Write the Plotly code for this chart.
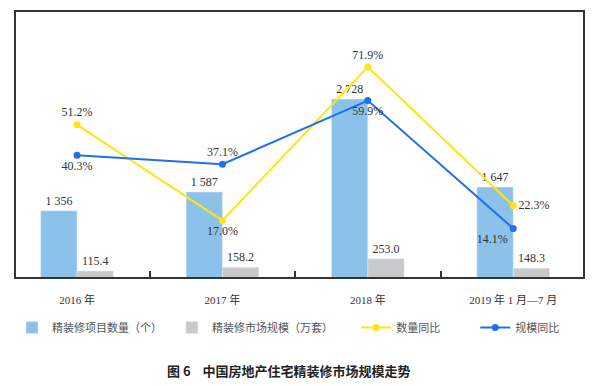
import plotly.graph_objects as go

categories = ["2016 年", "2017 年", "2018 年", "2019 年 1 月—7 月"]
project_count = [1356, 1587, 2728, 1647]
project_labels = ["1 356", "1 587", "2 728", "1 647"]
market_scale = [115.4, 158.2, 253.0, 148.3]
count_yoy = [51.2, 17.0, 71.9, 22.3]
scale_yoy = [40.3, 37.1, 59.9, 14.1]

legend_names = ["精装修项目数量（个）", "精装修市场规模（万套）", "数量同比", "规模同比"]
caption = "图 6    中国房地产住宅精装修市场规模走势"

xpos = list(range(len(categories)))
serif = "Liberation Serif, Times New Roman, Noto Sans CJK SC, serif"
tf = dict(family=serif, size=12, color="#333")

fig = go.Figure()
fig.add_trace(go.Bar(
    x=xpos, y=project_count, name=legend_names[0], yaxis="y", legend="legend",
    width=0.25, offset=-0.25, marker_color="#8cc2ea",
    text=project_labels, textposition="outside", cliponaxis=False, textfont=tf,
))
fig.add_trace(go.Bar(
    x=xpos, y=market_scale, name=legend_names[1], yaxis="y2", legend="legend2",
    width=0.25, offset=0, marker_color="#c8c9ca",
    text=[f"{v:.1f}" for v in market_scale], textposition="outside",
    cliponaxis=False, textfont=tf,
))
fig.add_trace(go.Scatter(
    x=xpos, y=count_yoy, name=legend_names[2], yaxis="y3", legend="legend3",
    mode="lines+markers+text", line=dict(color="#ffe512", width=2),
    marker=dict(size=7, color="#ffe512"),
    text=[f"{v:.1f}%" for v in count_yoy],
    textposition=["top center", "bottom center", "top center", "middle right"],
    textfont=tf, cliponaxis=False,
))
fig.add_trace(go.Scatter(
    x=xpos, y=scale_yoy, name=legend_names[3], yaxis="y3", legend="legend4",
    mode="lines+markers+text", line=dict(color="#1f70f0", width=2),
    marker=dict(size=7, color="#1f70f0"),
    text=[f"{v:.1f}%" for v in scale_yoy],
    textposition=["bottom center", "top center", "bottom center", "bottom left"],
    textfont=tf, cliponaxis=False,
))

lf = dict(family=serif, size=11, color="#555")
def leg(x):
    return dict(orientation="h", x=x, y=-0.136, xanchor="left", yanchor="top",
                font=lf, itemwidth=30, bgcolor="rgba(0,0,0,0)")

xr = [-0.42, 3.48]
# page body has an 8px margin, so the figure is sized/margined to compensate
fig.update_layout(
    width=592, height=378,
    margin=dict(l=8, r=17, t=4, b=109, autoexpand=False),
    paper_bgcolor="white", plot_bgcolor="white",
    barmode="overlay",
    showlegend=True,
    legend=leg(-0.007), legend2=leg(0.275), legend3=leg(0.6), legend4=leg(0.81),
    xaxis=dict(range=xr, tickvals=xpos, ticktext=categories, ticks="",
               showline=True, linecolor="#333", linewidth=1.5, mirror=True,
               showgrid=False, zeroline=False, ticklabelstandoff=12,
               tickfont=dict(family=serif, size=11, color="#333")),
    xaxis2=dict(range=xr, overlaying="x", anchor="y", side="bottom",
                tickvals=[0.5, 1.5, 2.5], ticks="inside", ticklen=6, tickwidth=1.5,
                tickcolor="#333", showticklabels=False, showgrid=False,
                zeroline=False, showline=False),
    yaxis=dict(range=[543, 3797], showticklabels=False, showgrid=False, zeroline=False,
               showline=True, linecolor="#333", linewidth=1.5, mirror=True, ticks=""),
    yaxis2=dict(range=[49, 3020], overlaying="y", showticklabels=False,
                showgrid=False, zeroline=False, showline=False),
    yaxis3=dict(range=[-3.26, 91.6], overlaying="y", showticklabels=False,
                showgrid=False, zeroline=False, showline=True, mirror=True,
                linecolor="#333", linewidth=1.5),
    annotations=[dict(text="<b>" + caption + "</b>", xref="paper", yref="paper",
                      x=0.481, y=-0.351, xanchor="center", yanchor="middle",
                      showarrow=False,
                      font=dict(family="Noto Sans CJK SC, sans-serif", size=13, color="#222"))],
)
# helper trace to activate the between-category tick axis
fig.add_trace(go.Scatter(x=[xr[0]], y=[None], xaxis="x2", yaxis="y", showlegend=False,
                         hoverinfo="skip", mode="markers"))

fig.write_html("out.html")
